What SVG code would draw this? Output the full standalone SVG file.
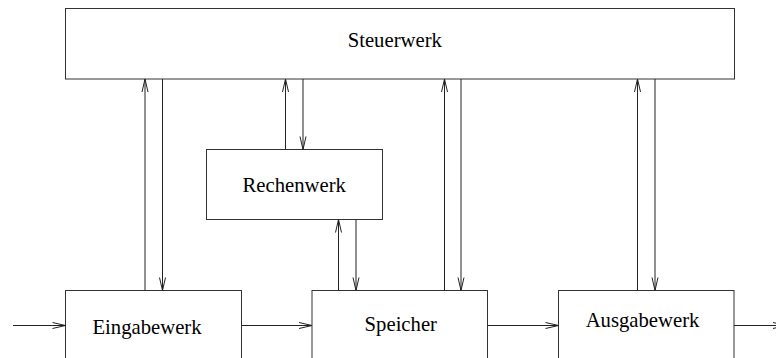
<svg xmlns="http://www.w3.org/2000/svg" width="776" height="358" viewBox="0 0 776 358">
  <style>
    .box { fill: #ffffff; stroke: #333333; stroke-width: 1; }
    .lbl { font-family: "Liberation Serif", "Times New Roman", serif; font-size: 20.7px; fill: #000000; text-anchor: middle; }
    .wire { stroke: #222222; stroke-width: 1; fill: none; marker-end: url(#head); }
  </style>
  <defs>
    <marker id="head" viewBox="-14 -4 15 8" refX="0" refY="0" markerWidth="15" markerHeight="8" markerUnits="userSpaceOnUse" orient="auto" overflow="visible">
      <path d="M-13,-3 L0,0 L-13,3" fill="none" stroke="#222222" stroke-width="1"/>
    </marker>
  </defs>
  <rect width="776" height="358" fill="#ffffff"/>

  <g id="steuerwerk">
    <rect class="box" x="65.5" y="8.5" width="669" height="70.5"/>
    <text class="lbl" x="394.8" y="46.7">Steuerwerk</text>
  </g>

  <g id="rechenwerk">
    <rect class="box" x="206.5" y="149.5" width="176" height="70"/>
    <text class="lbl" x="294.2" y="191.7">Rechenwerk</text>
  </g>

  <g id="eingabewerk">
    <rect class="box" x="65.5" y="290.5" width="176" height="90"/>
    <text class="lbl" x="147" y="334">Eingabewerk</text>
  </g>

  <g id="speicher">
    <rect class="box" x="312" y="290.5" width="175.5" height="90"/>
    <text class="lbl" x="400.8" y="331">Speicher</text>
  </g>

  <g id="ausgabewerk">
    <rect class="box" x="558.5" y="290.5" width="175.5" height="90"/>
    <text class="lbl" x="642.5" y="326.7">Ausgabewerk</text>
  </g>

  <g id="connectors">
    <!-- Eingabewerk <-> Steuerwerk -->
    <line class="wire" x1="145" y1="290.5" x2="145" y2="79"/>
    <line class="wire" x1="162.5" y1="79" x2="162.5" y2="290.5"/>
    <!-- Rechenwerk <-> Steuerwerk -->
    <line class="wire" x1="285.5" y1="149.5" x2="285.5" y2="79"/>
    <line class="wire" x1="303" y1="79" x2="303" y2="149.5"/>
    <!-- Speicher <-> Rechenwerk -->
    <line class="wire" x1="338.5" y1="290.5" x2="338.5" y2="219.5"/>
    <line class="wire" x1="356" y1="219.5" x2="356" y2="290.5"/>
    <!-- Speicher <-> Steuerwerk -->
    <line class="wire" x1="444.5" y1="290.5" x2="444.5" y2="79"/>
    <line class="wire" x1="461" y1="79" x2="461" y2="290.5"/>
    <!-- Ausgabewerk <-> Steuerwerk -->
    <line class="wire" x1="637.5" y1="290.5" x2="637.5" y2="79"/>
    <line class="wire" x1="655" y1="79" x2="655" y2="290.5"/>
    <!-- data path -->
    <line class="wire" x1="13" y1="325.5" x2="65.5" y2="325.5"/>
    <line class="wire" x1="241.5" y1="325.5" x2="312" y2="325.5"/>
    <line class="wire" x1="487.5" y1="325.5" x2="558.5" y2="325.5"/>
    <line class="wire" x1="734" y1="325.5" x2="786" y2="325.5"/>
  </g>
</svg>
